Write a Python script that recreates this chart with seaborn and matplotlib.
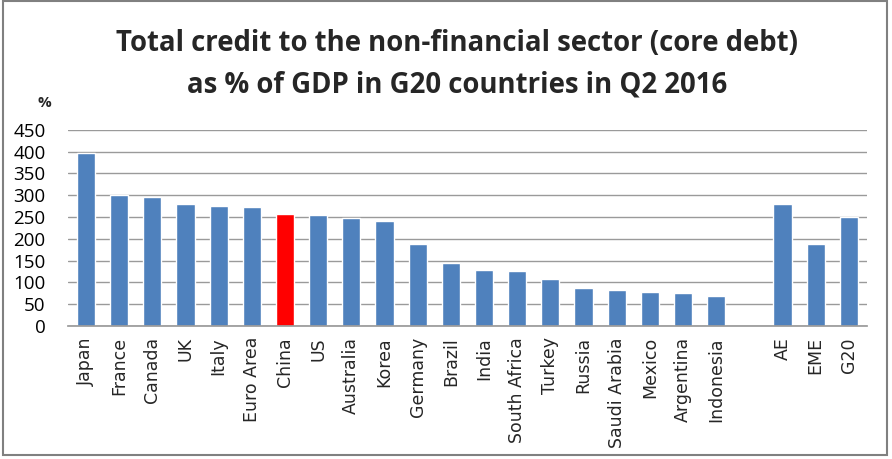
import numpy as np
import pandas as pd
import matplotlib
matplotlib.use("Agg")
import matplotlib.pyplot as plt
import seaborn as sns
from matplotlib.patches import Rectangle

countries = ["Japan", "France", "Canada", "UK", "Italy", "Euro Area", "China", "US",
             "Australia", "Korea", "Germany", "Brazil", "India", "South Africa", "Turkey",
             "Russia", "Saudi Arabia", "Mexico", "Argentina", "Indonesia"]
country_values = [397, 300, 296, 279, 276, 272, 256, 255,
                  248, 240, 187, 145, 128, 126, 108,
                  87, 83, 78, 76, 68]
groups = ["AE", "EME", "G20"]
group_values = [281, 189, 251]
highlight = "China"

blue = "#4F81BD"
red = "#FF0000"

# one empty slot separates the countries from the aggregates
labels = countries + [" "] + groups
values = country_values + [np.nan] + group_values
df = pd.DataFrame({"label": labels, "value": values})
palette = {lab: (red if lab == highlight else blue) for lab in labels}

sns.set_theme(style="white")
plt.rcParams["font.family"] = ["Open Sans", "DejaVu Sans"]

fig = plt.figure(figsize=(8.92, 4.59), dpi=100)
ax = fig.add_axes([0.076, 0.290, 0.896, 0.427])

sns.barplot(data=df, x="label", y="value", hue="label", palette=palette,
            order=labels, width=0.55, legend=False, ax=ax, saturation=1)

ax.set_ylim(0, 450)
ax.set_xlim(-0.55, len(labels) - 0.45)
ax.set_yticks(np.arange(0, 451, 50))
ax.yaxis.grid(True, color="#9A9A9A", linewidth=1.0)
ax.set_axisbelow(True)
for s in ["left", "right", "top"]:
    ax.spines[s].set_visible(False)
ax.spines["bottom"].set_color("#9A9A9A")
ax.set_xlabel("")
ax.set_ylabel("")
ax.tick_params(axis="y", labelsize=13.5, pad=16, length=0, labelcolor="black")
ax.tick_params(axis="x", length=0, pad=8)
ax.set_xticks(range(len(labels)))
ax.set_xticklabels(labels, rotation=90, fontsize=12.5, family="DejaVu Sans")

fig.text(0.512, 0.905, "Total credit to the non-financial sector (core debt)",
         ha="center", va="center", fontsize=19.8, fontweight="bold")
fig.text(0.512, 0.815, "as % of GDP in G20 countries in Q2 2016",
         ha="center", va="center", fontsize=19.8, fontweight="bold")
fig.text(0.050, 0.775, "%", ha="center", va="center", fontsize=11, fontweight="bold")

fig.patches.append(Rectangle((0.003, 0.008), 0.991, 0.99, transform=fig.transFigure,
                             fill=False, edgecolor="#808080", linewidth=1.5))

fig.savefig("out.png", dpi=100)
